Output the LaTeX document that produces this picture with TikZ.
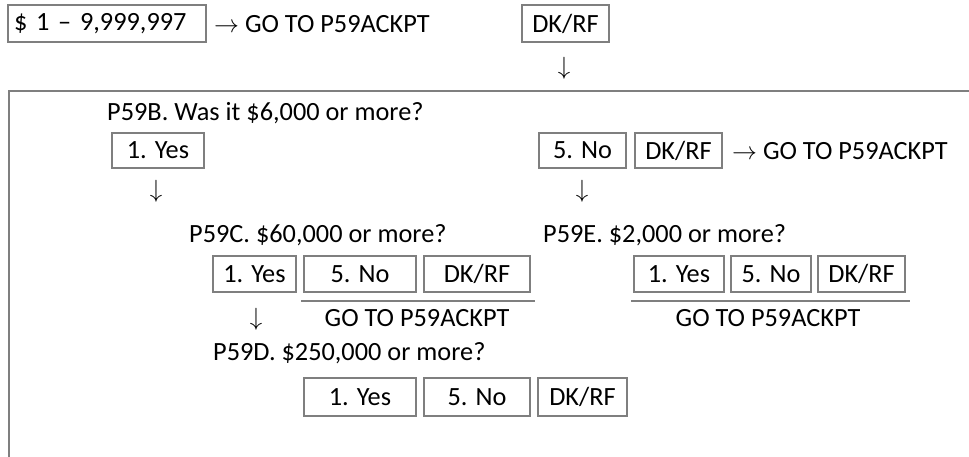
\documentclass[tikz,border=0pt]{standalone}
\usepackage{fontspec}
\setmainfont{Carlito}
\definecolor{boxgray}{RGB}{127,127,127}
\begin{document}
\begin{tikzpicture}[x=1pt,y=-1pt,
  every node/.style={font=\fontsize{26.3pt}{30pt}\selectfont, text=black},
  opt/.style={draw=boxgray, line width=2pt, inner sep=0pt, minimum height=#1},
  opt/.default=35,
  lbl/.style={anchor=west, inner sep=0pt},
  ctr/.style={inner sep=0pt},
  frameline/.style={draw=boxgray, line width=2pt},
  rule/.style={draw=boxgray, line width=2pt}]
\useasboundingbox (0,0) rectangle (969,456);
% top row
\node[opt=37, minimum width=198, text width=186, inner xsep=6pt, align=left] (range) at (107,23.5) {\$ 1 -- 9,999,997};
\node[lbl] (goA) at (214,24) {$\rightarrow$ GO TO P59ACKPT};
\node[opt=37, minimum width=87] (dkTop) at (565.5,23.5) {DK/RF};
\node[ctr] (arrTop) at (564,68) {$\downarrow$};
% frame
\draw[frameline] (9,458) -- (9,91) -- (971,91);
% P59B
\node[lbl] (qB) at (107,113) {P59B. Was it \$6,000 or more?};
\node[opt, minimum width=92] (bYes) at (158,150.5) {1. Yes};
\node[opt, minimum width=87] (bNo) at (582.5,150.5) {5. No};
\node[opt, minimum width=87] (bDk) at (678.5,150.5) {DK/RF};
\node[lbl] (goB) at (732,151) {$\rightarrow$ GO TO P59ACKPT};
\node[ctr] (arrBYes) at (156,191) {$\downarrow$};
\node[ctr] (arrBNo) at (582,191) {$\downarrow$};
% P59C
\node[lbl] (qC) at (189,235) {P59C. \$60,000 or more?};
\node[opt=36, minimum width=83] (cYes) at (254.5,274) {1. Yes};
\node[opt=36, minimum width=112] (cNo) at (360,274) {5. No};
\node[opt=36, minimum width=106] (cDk) at (477,274) {DK/RF};
\draw[rule] (301,301) -- (535,301);
\node[ctr] (goC) at (417,318) {GO TO P59ACKPT};
\node[ctr] (arrCYes) at (256,319) {$\downarrow$};
% P59E
\node[lbl] (qE) at (543,235) {P59E. \$2,000 or more?};
\node[opt=36, minimum width=90] (eYes) at (679,274) {1. Yes};
\node[opt=36, minimum width=80] (eNo) at (771,274) {5. No};
\node[opt=36, minimum width=87] (eDk) at (861.5,274) {DK/RF};
\draw[rule] (631,301) -- (910,301);
\node[ctr] (goE) at (768,318) {GO TO P59ACKPT};
% P59D
\node[lbl] (qD) at (213,353) {P59D. \$250,000 or more?};
\node[opt=38, minimum width=112] (dYes) at (360,397) {1. Yes};
\node[opt=38, minimum width=106] (dNo) at (477,397) {5. No};
\node[opt=38, minimum width=89] (dDk) at (582.5,397) {DK/RF};
\end{tikzpicture}
\end{document}
